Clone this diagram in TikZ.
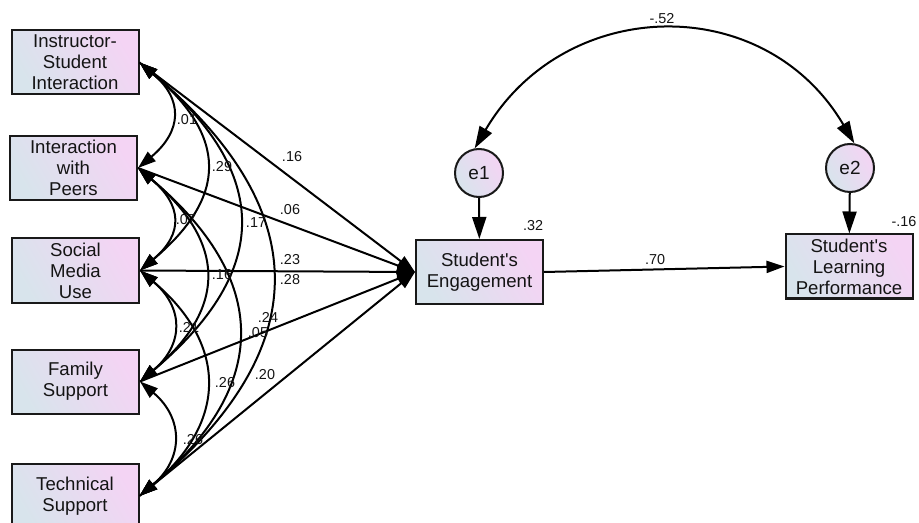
\documentclass[tikz,border=0pt]{standalone}
\usepackage{fontspec}
\setmainfont{Liberation Sans}
\usetikzlibrary{arrows.meta}
\definecolor{boxL}{RGB}{216,228,236}
\definecolor{boxR}{RGB}{244,212,244}
\definecolor{txt}{RGB}{20,20,20}
\begin{document}
\begin{tikzpicture}[x=0.5pt,y=-0.5pt,
  var/.style={draw=black!90, line width=1pt, minimum width=63.5pt, minimum height=32pt,
    inner sep=0pt, align=center, text=txt, font=\fontsize{9.3}{10.5}\selectfont,
    left color=boxL, right color=boxR, shading angle=120},
  err/.style={circle, draw=black!90, line width=1pt, minimum size=24pt, inner sep=0pt,
    text=txt, font=\fontsize{9.5}{10.5}\selectfont,
    left color=boxL, right color=boxR, shading angle=120},
  lbl/.style={font=\fontsize{7.2}{8}\selectfont, inner sep=0pt, text=txt},
  tip/.tip={Triangle[length=9pt,width=6pt]},
  bigtip/.tip={Triangle[length=11pt,width=7pt]},
  reg/.style={line width=1pt, -tip},
  cov/.style={line width=1pt, tip-tip},
  ereg/.style={line width=1pt, -bigtip},
  ecov/.style={line width=1pt, bigtip-bigtip}]
\useasboundingbox (0,0) rectangle (919,523);
\clip (0,0) rectangle (919,523);
% observed exogenous variables
\node[var] (b1) at (75,62.5) {Instructor-\\Student\\Interaction};
\node[var] (b2) at (73.5,168) {Interaction\\with\\Peers};
\node[var] (b3) at (75.5,270.5) {Social\\Media\\Use};
\node[var] (b4) at (75.5,381.5) {Family\\Support};
\node[var] (b5) at (75,496) {Technical\\Support};
% endogenous
\node[var] (se) at (479.5,272) {Student\textquotesingle s\\Engagement};
\node[var] (slp) at (849,266.5) {Student\textquotesingle s\\Learning\\Performance};
\node[err] (e1) at (479,173) {e1};
\node[err] (e2) at (850,168) {e2};
% covariances among exogenous
\draw[cov] (b1.east) .. controls +(44,37) and +(44,-37) .. (b2.east);
\draw[cov] (b2.east) .. controls +(44,37) and +(44,-37) .. (b3.east);
\draw[cov] (b3.east) .. controls +(44,37) and +(44,-37) .. (b4.east);
\draw[cov] (b4.east) .. controls +(44,37) and +(44,-37) .. (b5.east);
\draw[cov] (b1.east) .. controls +(88,74) and +(88,-74) .. (b3.east);
\draw[cov] (b2.east) .. controls +(88,74) and +(88,-74) .. (b4.east);
\draw[cov] (b3.east) .. controls +(88,74) and +(88,-74) .. (b5.east);
\draw[cov] (b1.east) .. controls +(132,111) and +(132,-111) .. (b4.east);
\draw[cov] (b2.east) .. controls +(132,111) and +(132,-111) .. (b5.east);
\draw[cov] (b1.east) .. controls +(176,148) and +(176,-148) .. (b5.east);
% regressions
\draw[reg] (b1.east) -- (se.west);
\draw[reg] (b2.east) -- (se.west);
\draw[reg] (b3.east) -- (se.west);
\draw[reg] (b4.east) -- (se.west);
\draw[reg] (b5.east) -- (se.west);
\draw[reg] (se.east) -- (slp.west);
\draw[ereg] (e1) -- (se);
\draw[ereg] (e2) -- (slp);
\draw[ecov] (e1.100) .. controls +(90,-153) and +(-90,-153) .. (e2.80);
% labels
\node[lbl] (l01) at (187,120) {.01};
\node[lbl] (l29) at (222,167) {.29};
\node[lbl] (l17) at (256,223) {.17};
\node[lbl] (l07) at (186,220) {.07};
\node[lbl] (l16b) at (222,275) {.16};
\node[lbl] (l21) at (189,327) {.21};
\node[lbl] (l26a) at (225,383) {.26};
\node[lbl] (l26b) at (193,440) {.26};
\node[lbl] (l28) at (290,280) {.28};
\node[lbl] (l05) at (258,333) {.05};
\node[lbl] (l16a) at (292,157) {.16};
\node[lbl] (l06) at (290,210) {.06};
\node[lbl] (l23) at (290,260) {.23};
\node[lbl] (l24) at (268,317) {.24};
\node[lbl] (l20) at (265,375) {.20};
\node[lbl] (l70) at (655,260) {.70};
\node[lbl] (l32) at (533,226) {.32};
\node[lbl] (lm16) at (904,222) {-.16};
\node[lbl] (lm52) at (662,19) {-.52};
\end{tikzpicture}
\end{document}
